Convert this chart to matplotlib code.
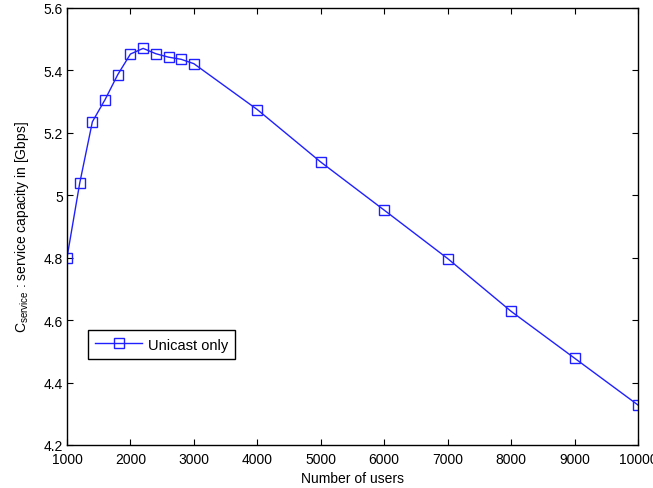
import matplotlib
matplotlib.use('Agg')
import matplotlib.pyplot as plt

# values
users = [1000, 1200, 1400, 1600, 1800, 2000, 2200, 2400, 2600, 2800, 3000,
         4000, 5000, 6000, 7000, 8000, 9000, 10000]
capacity = [4.80, 5.038, 5.235, 5.306, 5.386, 5.452, 5.470, 5.453, 5.442, 5.435, 5.421,
            5.274, 5.106, 4.952, 4.797, 4.628, 4.478, 4.328]

plt.rcParams['font.family'] = ['Liberation Sans', 'DejaVu Sans']
plt.rcParams['mathtext.fontset'] = 'custom'
plt.rcParams['mathtext.rm'] = 'Liberation Sans'
plt.rcParams['mathtext.it'] = 'Liberation Sans:italic'

fig = plt.figure(figsize=(6.53, 4.89), dpi=100)
ax = fig.add_axes([0.1026, 0.088, 0.8744, 0.894])

ax.plot(users, capacity, color='#2020ff', lw=1.0, marker='s', markersize=7.5,
        markerfacecolor='none', markeredgecolor='#2020ff', markeredgewidth=1.0,
        label='Unicast only')

ax.set_xlim(1000, 10000)
ax.set_ylim(4.2, 5.6)
ax.set_xticks(range(1000, 10001, 1000))
ax.set_yticks([4.2, 4.4, 4.6, 4.8, 5.0, 5.2, 5.4, 5.6])
ax.set_yticklabels(['4.2', '4.4', '4.6', '4.8', '5', '5.2', '5.4', '5.6'])
ax.tick_params(direction='in', top=True, right=True, labelsize=10, length=4.5)
ax.tick_params(axis='x', pad=5)
ax.tick_params(axis='y', pad=3)
for s in ax.spines.values():
    s.set_linewidth(1.0)

ax.set_xlabel('Number of users', fontsize=10, labelpad=4)
ax.set_ylabel(r'C$_{\mathrm{service}}$ : service capacity in [Gbps]', fontsize=10, labelpad=9)

leg = ax.legend(loc='lower left', bbox_to_anchor=(0.037, 0.197), borderaxespad=0,
                fontsize=10.5, fancybox=False, edgecolor='black', framealpha=1,
                handlelength=3.2, handletextpad=0.4, borderpad=0.5)
leg.get_frame().set_linewidth(1.0)

fig.savefig('out.png', dpi=100)
